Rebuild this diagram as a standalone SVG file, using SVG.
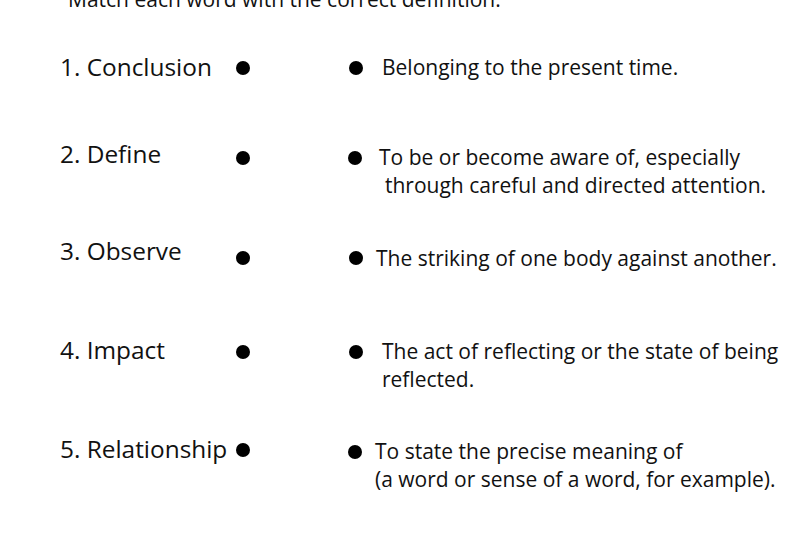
<svg xmlns="http://www.w3.org/2000/svg" width="800" height="533" viewBox="0 0 800 533">
<style>
.w{font-family:"Open Sans","Liberation Sans",sans-serif;font-size:24.4px;fill:#111}
.d{font-family:"Open Sans","Liberation Sans",sans-serif;font-size:21px;fill:#111}
.dot{fill:#000}
</style>
<rect width="800" height="533" fill="#fff"/>
<text class="d" x="68" y="7">Match each word with the correct definition.</text>
<g id="n1"><text class="w" x="60" y="76">1. Conclusion</text><circle class="dot" cx="243" cy="68" r="7"/></g>
<g id="n2"><text class="w" x="60" y="163">2. Define</text><circle class="dot" cx="243" cy="158" r="7"/></g>
<g id="n3"><text class="w" x="60" y="260">3. Observe</text><circle class="dot" cx="243" cy="258" r="7"/></g>
<g id="n4"><text class="w" x="60" y="359">4. Impact</text><circle class="dot" cx="243" cy="352" r="7"/></g>
<g id="n5"><text class="w" x="60" y="458">5. Relationship</text><circle class="dot" cx="243" cy="450" r="7"/></g>
<g id="d1"><circle class="dot" cx="356" cy="68" r="7"/><text class="d" x="382" y="75">Belonging to the present time.</text></g>
<g id="d2"><circle class="dot" cx="355" cy="158" r="7"/><text class="d" x="379" y="165">To be or become aware of, especially</text><text class="d" x="385" y="193">through careful and directed attention.</text></g>
<g id="d3"><circle class="dot" cx="356" cy="258" r="7"/><text class="d" x="376" y="266">The striking of one body against another.</text></g>
<g id="d4"><circle class="dot" cx="356" cy="352" r="7"/><text class="d" x="382" y="359">The act of reflecting or the state of being</text><text class="d" x="382" y="387">reflected.</text></g>
<g id="d5"><circle class="dot" cx="355" cy="452" r="7"/><text class="d" x="375" y="459">To state the precise meaning of</text><text class="d" x="375" y="487">(a word or sense of a word, for example).</text></g>
<g id="connectors"></g>
</svg>
